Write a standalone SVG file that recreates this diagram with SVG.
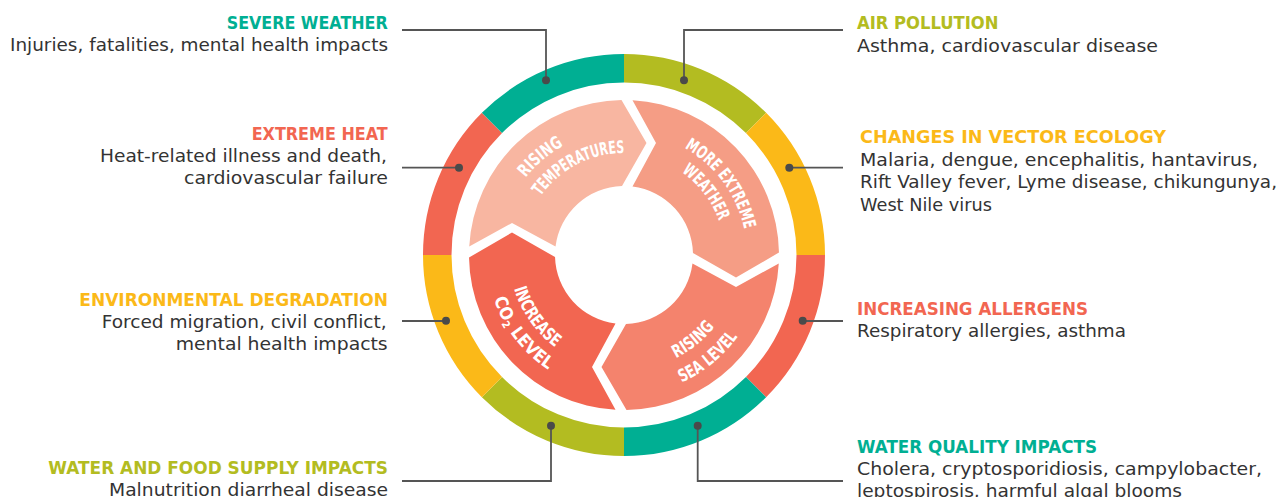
<svg xmlns="http://www.w3.org/2000/svg" xmlns:xlink="http://www.w3.org/1999/xlink" width="1281" height="497" viewBox="0 0 1281 497">
<style>
.ring{fill:none;stroke-width:28.5}
.teal{stroke:#00AF93}.olive{stroke:#B3BC21}.yellow{stroke:#FBB918}.red{stroke:#F26651}
.ttl{font-family:"DejaVu Sans","Liberation Sans",sans-serif;font-weight:bold;font-size:17px}
.body{font-family:"DejaVu Sans","Liberation Sans",sans-serif;font-size:17px;fill:#333333}
.inner{font-family:"DejaVu Sans Condensed","Liberation Sans Narrow","Liberation Sans",sans-serif;font-weight:bold;font-size:17.5px;fill:#ffffff}
.conn{fill:none;stroke:#555555;stroke-width:1.8}
.dot{fill:#4a4a4a}
</style>
<defs>
<path id="seg" d="M 469.23,246.5 A 155 155 0 0 1 621.5,100.02 L 646.5,143 L 622,186.03 A 69 69 0 0 0 555.53,246.5 L 512,223 Z"/>
<path id="p-rt1" d="M 525.64,177.87 A 125 125 0 0 1 645.7,131.9"/>
<path id="p-rt2" d="M 540.55,196.35 A 102 102 0 0 1 658.89,159.15"/>
<path id="p-mw1" d="M 684.38,147.84 A 123 123 0 0 1 746.53,265.72"/>
<path id="p-mw2" d="M 681.35,171.87 A 101 101 0 0 1 725,255"/>
<path id="p-rs1" d="M 676.08,358.1 A 115.5 115.5 0 0 0 732.53,294.5"/>
<path id="p-rs2" d="M 681.83,382.5 A 140 140 0 0 0 755.56,302.88"/>
<path id="p-co1" d="M 513.97,288.43 A 115 115 0 0 0 584.67,363.07"/>
<path id="p-co2" d="M 493.76,299.08 A 137.5 137.5 0 0 0 576.97,384.21"/>
</defs>

<g id="outer-ring">
<path class="ring olive" d="M 624,68.25 A 186.75 186.75 0 0 1 756.05,122.95"/>
<path class="ring yellow" d="M 756.05,122.95 A 186.75 186.75 0 0 1 810.75,255"/>
<path class="ring red" d="M 810.75,255 A 186.75 186.75 0 0 1 756.05,387.05"/>
<path class="ring teal" d="M 756.05,387.05 A 186.75 186.75 0 0 1 624,441.75"/>
<path class="ring olive" d="M 624,441.75 A 186.75 186.75 0 0 1 491.95,387.05"/>
<path class="ring yellow" d="M 491.95,387.05 A 186.75 186.75 0 0 1 437.25,255"/>
<path class="ring red" d="M 437.25,255 A 186.75 186.75 0 0 1 491.95,122.95"/>
<path class="ring teal" d="M 491.95,122.95 A 186.75 186.75 0 0 1 624,68.25"/>
</g>

<g id="rising-temperatures">
<use xlink:href="#seg" href="#seg" fill="#F8B6A1"/>
<text class="inner"><textPath xlink:href="#p-rt1" href="#p-rt1" textLength="50" lengthAdjust="spacingAndGlyphs">RISING</textPath></text>
<text class="inner"><textPath xlink:href="#p-rt2" href="#p-rt2" textLength="98" lengthAdjust="spacingAndGlyphs">TEMPERATURES</textPath></text>
</g>
<g id="more-extreme-weather">
<use xlink:href="#seg" href="#seg" fill="#F59D85" transform="rotate(90 624 255)"/>
<text class="inner"><textPath xlink:href="#p-mw1" href="#p-mw1" textLength="104" lengthAdjust="spacingAndGlyphs">MORE EXTREME</textPath></text>
<text class="inner"><textPath xlink:href="#p-mw2" href="#p-mw2" textLength="63" lengthAdjust="spacingAndGlyphs">WEATHER</textPath></text>
</g>
<g id="rising-sea-level">
<use xlink:href="#seg" href="#seg" fill="#F4836D" transform="rotate(180 624 255)"/>
<text class="inner"><textPath xlink:href="#p-rs1" href="#p-rs1" textLength="50" lengthAdjust="spacingAndGlyphs">RISING</textPath></text>
<text class="inner"><textPath xlink:href="#p-rs2" href="#p-rs2" textLength="73" lengthAdjust="spacingAndGlyphs">SEA LEVEL</textPath></text>
</g>
<g id="increase-co2-level">
<use xlink:href="#seg" href="#seg" fill="#F26651" transform="rotate(270 624 255)"/>
<text class="inner"><textPath xlink:href="#p-co1" href="#p-co1" textLength="73" lengthAdjust="spacingAndGlyphs">INCREASE</textPath></text>
<text class="inner"><textPath xlink:href="#p-co2" href="#p-co2">CO<tspan font-size="10.5" dy="3">2</tspan><tspan dy="-3"> LEVEL</tspan></textPath></text>
</g>

<g id="connectors">
<polyline class="conn" points="402,30 546,30 546,80.3"/>
<polyline class="conn" points="843,30 684,30 684,80.3"/>
<polyline class="conn" points="402,167.7 459,167.7"/>
<polyline class="conn" points="843,167.7 789.3,167.7"/>
<polyline class="conn" points="402,321 446,321"/>
<polyline class="conn" points="843,321 802.7,321"/>
<polyline class="conn" points="402,481 551,481 551,425.7"/>
<polyline class="conn" points="843,481 697.7,481 697.7,425.7"/>
<circle class="dot" cx="546" cy="80.3" r="4"/>
<circle class="dot" cx="684" cy="80.3" r="4"/>
<circle class="dot" cx="459" cy="167.7" r="4"/>
<circle class="dot" cx="789.3" cy="167.7" r="4"/>
<circle class="dot" cx="446" cy="320.7" r="4"/>
<circle class="dot" cx="802.7" cy="320.7" r="4"/>
<circle class="dot" cx="551" cy="425.7" r="4"/>
<circle class="dot" cx="697.7" cy="425.7" r="4"/>
</g>

<g id="severe-weather">
<text class="ttl" x="226.7" y="29" fill="#00AF93" textLength="161" lengthAdjust="spacingAndGlyphs">SEVERE WEATHER</text>
<text class="body" x="10" y="51" textLength="378" lengthAdjust="spacingAndGlyphs">Injuries, fatalities, mental health impacts</text>
</g>
<g id="extreme-heat">
<text class="ttl" x="251.7" y="140" fill="#F26651" textLength="136" lengthAdjust="spacingAndGlyphs">EXTREME HEAT</text>
<text class="body" x="100" y="162" textLength="287" lengthAdjust="spacingAndGlyphs">Heat-related illness and death,</text>
<text class="body" x="184" y="184" textLength="204" lengthAdjust="spacingAndGlyphs">cardiovascular failure</text>
</g>
<g id="environmental-degradation">
<text class="ttl" x="79.3" y="306" fill="#FBB918" textLength="308.7" lengthAdjust="spacingAndGlyphs">ENVIRONMENTAL DEGRADATION</text>
<text class="body" x="101.7" y="328" textLength="285" lengthAdjust="spacingAndGlyphs">Forced migration, civil conflict,</text>
<text class="body" x="175.7" y="350" textLength="212" lengthAdjust="spacingAndGlyphs">mental health impacts</text>
</g>
<g id="water-food-supply">
<text class="ttl" x="48.3" y="474" fill="#B3BC21" textLength="339.7" lengthAdjust="spacingAndGlyphs">WATER AND FOOD SUPPLY IMPACTS</text>
<text class="body" x="109" y="496" textLength="279" lengthAdjust="spacingAndGlyphs">Malnutrition diarrheal disease</text>
</g>
<g id="air-pollution">
<text class="ttl" x="857" y="29" fill="#B3BC21" textLength="141.5" lengthAdjust="spacingAndGlyphs">AIR POLLUTION</text>
<text class="body" x="857" y="51.5" textLength="301" lengthAdjust="spacingAndGlyphs">Asthma, cardiovascular disease</text>
</g>
<g id="vector-ecology">
<text class="ttl" x="860" y="142.5" fill="#FBB918" textLength="306" lengthAdjust="spacingAndGlyphs">CHANGES IN VECTOR ECOLOGY</text>
<text class="body" x="860" y="165.5" textLength="398" lengthAdjust="spacingAndGlyphs">Malaria, dengue, encephalitis, hantavirus,</text>
<text class="body" x="860" y="188" textLength="417" lengthAdjust="spacingAndGlyphs">Rift Valley fever, Lyme disease, chikungunya,</text>
<text class="body" x="860" y="210.5" textLength="132" lengthAdjust="spacingAndGlyphs">West Nile virus</text>
</g>
<g id="increasing-allergens">
<text class="ttl" x="857" y="315" fill="#F26651" textLength="231" lengthAdjust="spacingAndGlyphs">INCREASING ALLERGENS</text>
<text class="body" x="857" y="336.5" textLength="269" lengthAdjust="spacingAndGlyphs">Respiratory allergies, asthma</text>
</g>
<g id="water-quality">
<text class="ttl" x="857" y="452.5" fill="#00AF93" textLength="240" lengthAdjust="spacingAndGlyphs">WATER QUALITY IMPACTS</text>
<text class="body" x="857" y="475" textLength="405" lengthAdjust="spacingAndGlyphs">Cholera, cryptosporidiosis, campylobacter,</text>
<text class="body" x="857" y="497" textLength="325" lengthAdjust="spacingAndGlyphs">leptospirosis, harmful algal blooms</text>
</g>
</svg>
